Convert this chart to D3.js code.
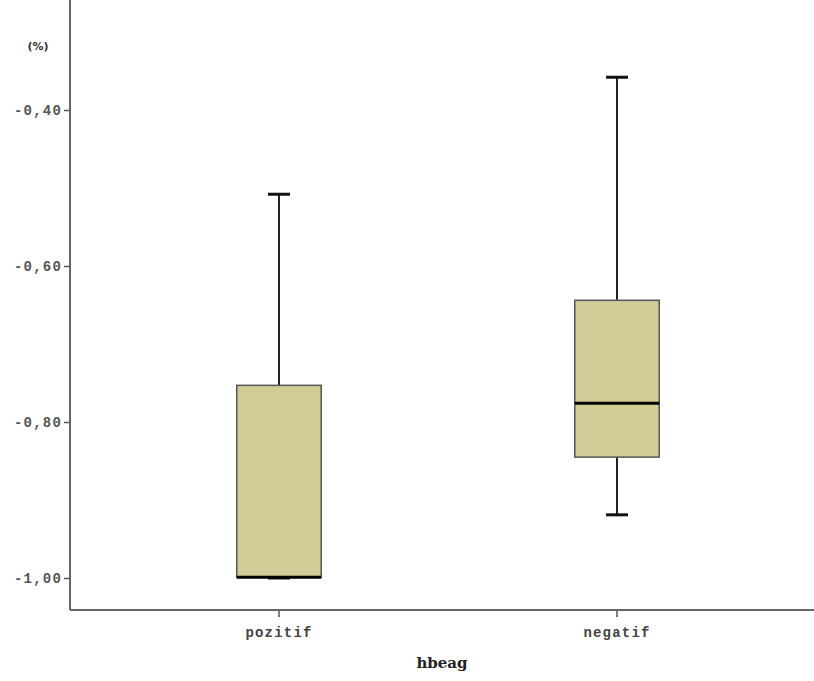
<!DOCTYPE html>
<html>
<head>
<meta charset="utf-8">
<script src="https://cdn.jsdelivr.net/npm/d3@7"></script>
<style>
  html, body { margin: 0; padding: 0; background: #fff; }
  svg { display: block; }
</style>
</head>
<body>
<svg id="chart" width="814" height="681"></svg>
<script>
// Box plot of the (%) change by HBeAg status
const categories = ["pozitif", "negatif"];
const whiskerMax = [-0.508, -0.358];
const q3Values   = [-0.753, -0.644];
const medians    = [-0.999, -0.776];
const q1Values   = [-0.999, -0.845];
const whiskerMin = [-1.000, -0.919];
const yTickValues = [-1.0, -0.8, -0.6, -0.4];
const yTickLabels = ["-1,00", "-0,80", "-0,60", "-0,40"];

const data = categories.map((c, i) => ({
  cat: c, hi: whiskerMax[i], q3: q3Values[i], med: medians[i], q1: q1Values[i], lo: whiskerMin[i]
}));

const svg = d3.select("#chart");
const plotLeft = 70, plotRight = 814, plotTop = 0, plotBottom = 610;

const y = d3.scaleLinear().domain([-1.0, -0.4]).range([578, 110]);
const x = d3.scaleBand().domain(categories).range([110, 786]).padding(0);

const boxW = x.bandwidth() * 0.25;
const capW = 22;
const monoFont = "'Liberation Mono', 'DejaVu Sans Mono', monospace";

// Axes
const yAxis = d3.axisLeft(y)
  .tickValues(yTickValues)
  .tickFormat((d, i) => yTickLabels[i])
  .tickSize(6)
  .tickSizeOuter(0);
const gy = svg.append("g").attr("transform", `translate(${plotLeft},0)`).call(yAxis);
gy.select(".domain").remove();
gy.selectAll(".tick line").attr("stroke", "#555").attr("stroke-width", 1.5);
gy.selectAll(".tick text")
  .attr("x", -8)
  .attr("fill", "#555")
  .style("font-family", monoFont)
  .style("font-size", "14px")
  .style("letter-spacing", "1.2px")
  .style("font-weight", "bold");

const xAxis = d3.axisBottom(x).tickSize(7).tickSizeOuter(0);
const gx = svg.append("g").attr("transform", `translate(0,${plotBottom})`).call(xAxis);
gx.select(".domain").remove();
gx.selectAll(".tick line").attr("stroke", "#555").attr("stroke-width", 1.5);
gx.selectAll(".tick text")
  .attr("y", 17)
  .attr("fill", "#444")
  .style("font-family", monoFont)
  .style("font-size", "14px")
  .style("letter-spacing", "1.2px")
  .style("font-weight", "bold");

// Axis lines
svg.append("line").attr("x1", plotLeft).attr("x2", plotLeft).attr("y1", plotTop).attr("y2", plotBottom)
  .attr("stroke", "#666").attr("stroke-width", 2);
svg.append("line").attr("x1", plotLeft).attr("x2", plotRight).attr("y1", plotBottom).attr("y2", plotBottom)
  .attr("stroke", "#666").attr("stroke-width", 2);

// Boxes
const g = svg.append("g").selectAll("g").data(data).join("g")
  .attr("transform", d => `translate(${x(d.cat) + x.bandwidth() / 2},0)`);

// whisker stems
g.append("line").attr("x1", 0).attr("x2", 0)
  .attr("y1", d => y(d.hi)).attr("y2", d => y(d.q3))
  .attr("stroke", "#222").attr("stroke-width", 2);
g.append("line").attr("x1", 0).attr("x2", 0)
  .attr("y1", d => y(d.q1)).attr("y2", d => y(d.lo))
  .attr("stroke", "#222").attr("stroke-width", 2);
// caps
g.append("line").attr("x1", -capW / 2).attr("x2", capW / 2)
  .attr("y1", d => y(d.hi)).attr("y2", d => y(d.hi))
  .attr("stroke", "#111").attr("stroke-width", 3);
g.append("line").attr("x1", -capW / 2).attr("x2", capW / 2)
  .attr("y1", d => y(d.lo)).attr("y2", d => y(d.lo))
  .attr("stroke", "#111").attr("stroke-width", 3);
// box
g.append("rect")
  .attr("x", -boxW / 2).attr("width", boxW)
  .attr("y", d => y(d.q3)).attr("height", d => y(d.q1) - y(d.q3))
  .attr("fill", "#d2cd96").attr("stroke", "#555").attr("stroke-width", 1.5);
// median
g.append("line").attr("x1", -boxW / 2).attr("x2", boxW / 2)
  .attr("y1", d => y(d.med)).attr("y2", d => y(d.med))
  .attr("stroke", "#000").attr("stroke-width", 3);

// Titles
svg.append("text").attr("x", 38).attr("y", 50).attr("text-anchor", "middle")
  .attr("fill", "#333")
  .style("font-family", "'DejaVu Sans', sans-serif")
  .style("font-size", "11px").style("font-weight", "bold")
  .text("(%)");
svg.append("text").attr("x", 442).attr("y", 668).attr("text-anchor", "middle")
  .attr("fill", "#222")
  .style("font-family", "'DejaVu Serif', 'Liberation Serif', serif")
  .style("font-size", "15px").style("font-weight", "bold")
  .text("hbeag");
</script>
</body>
</html>
